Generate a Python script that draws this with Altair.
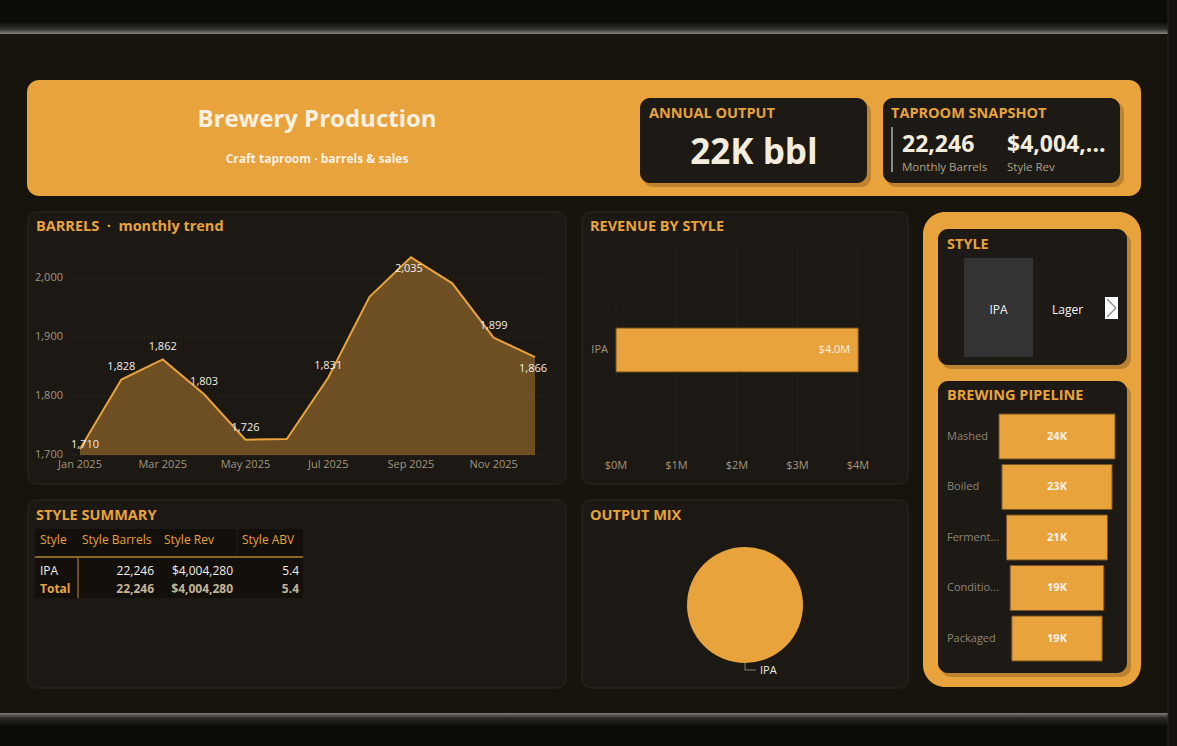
import altair as alt
import pandas as pd

# ---------------- data ----------------
months = ["Jan 2025", "Feb 2025", "Mar 2025", "Apr 2025", "May 2025", "Jun 2025",
          "Jul 2025", "Aug 2025", "Sep 2025", "Oct 2025", "Nov 2025", "Dec 2025"]
monthly_barrels = [1710, 1828, 1862, 1803, 1726, 1727, 1831, 1968, 2035, 1991, 1899, 1866]
labelled_at_point = ["Jan 2025"]
labelled_above = ["Feb 2025", "Mar 2025", "Apr 2025", "May 2025", "Jul 2025", "Nov 2025"]
labelled_below = ["Sep 2025", "Dec 2025"]
barrel_ticks = [1700, 1800, 1900, 2000]
month_ticks = ["Jan 2025", "Mar 2025", "May 2025", "Jul 2025", "Sep 2025", "Nov 2025"]

styles = ["IPA"]
style_barrels = [22246]
style_revenue = [4004280]
style_abv = [5.4]
revenue_ticks = [0, 1000000, 2000000, 3000000, 4000000]
revenue_tick_labels = ["$0M", "$1M", "$2M", "$3M", "$4M"]

slicer_styles = ["IPA", "Lager"]
selected_style = "IPA"

stages = ["Mashed", "Boiled", "Fermented", "Conditioned", "Packaged"]
stage_barrels = [24020, 22800, 20900, 19400, 18700]

# ---------------- styles ----------------
FONT = "Open Sans"
PAGE = "#17140E"
TOPBAR = "#0D0B07"
PANEL = "#1C1813"
PANEL_STROKE = "#2E2920"
CARD = "#1D1914"
ORANGE = "#E8A33C"
CREAM = "#F3ECDF"
MUTED = "#A3967F"
SUB = "#B0A28A"
GRID = "#3A342B"
ONE = pd.DataFrame({"k": [0]})


def rect(x1, y1, x2, y2, fill, radius=0, stroke=None, stroke_width=0, opacity=1.0):
    kw = dict(fill=fill, cornerRadius=radius, opacity=opacity)
    if stroke:
        kw.update(stroke=stroke, strokeWidth=stroke_width)
    return alt.Chart(ONE).mark_rect(**kw).encode(
        x=alt.value(x1), x2=alt.value(x2), y=alt.value(y1), y2=alt.value(y2))


def grad_rect(x1, y1, x2, y2, stops):
    g = {"gradient": "linear", "x1": 0, "x2": 0, "y1": 0, "y2": 1,
         "stops": [{"offset": o, "color": c} for o, c in stops]}
    return alt.Chart(ONE).mark_rect(fill=g).encode(
        x=alt.value(x1), x2=alt.value(x2), y=alt.value(y1), y2=alt.value(y2))


def text(x, y, s, size, color, weight="normal", align="left"):
    return alt.Chart(ONE).mark_text(
        text=s, fontSize=size, color=color, fontWeight=weight, align=align,
        baseline="middle", font=FONT).encode(x=alt.value(x), y=alt.value(y))


def line(x1, y1, x2, y2, color, width=1.0):
    return alt.Chart(ONE).mark_rule(color=color, strokeWidth=width).encode(
        x=alt.value(x1), x2=alt.value(x2), y=alt.value(y1), y2=alt.value(y2))


layers = []

# ---------------- page frame ----------------
layers += [
    rect(0, 0, 1177, 746, PAGE),
    rect(0, 0, 1177, 22, TOPBAR),
    grad_rect(0, 22, 1177, 34, [(0, TOPBAR), (0.6, "#33312d"), (1, "#86847f")]),
    grad_rect(0, 713, 1177, 727, [(0, "#7f7d78"), (0.35, "#2b2925"), (1, TOPBAR)]),
    rect(0, 727, 1177, 746, TOPBAR),
    rect(1168, 0, 1177, 746, "#15120d"),
    line(1168, 0, 1168, 746, "#2b2720"),
]

# ---------------- header ----------------
kpi = pd.DataFrame({"barrels": [sum(monthly_barrels)], "revenue": [sum(style_revenue)]})
layers += [
    rect(27, 80, 1141, 196, ORANGE, radius=12),
    text(317, 120, "Brewery Production", 24, "#FAF1E2", weight="bold", align="center"),
    text(317, 159, "Craft taproom · barrels & sales", 12, "#FAF1E2", weight="bold", align="center"),
    rect(643, 102, 871, 187, "#9c6a22", radius=10, opacity=0.55),
    rect(640, 98, 867, 183, CARD, radius=10),
    text(649, 114, "ANNUAL OUTPUT", 14.5, ORANGE, weight="bold"),
    alt.Chart(kpi).transform_calculate(lbl="format(datum.barrels/1000, '.0f') + 'K bbl'")
    .mark_text(fontSize=35, color=CREAM, fontWeight="bold", align="center", baseline="middle", font=FONT)
    .encode(x=alt.value(754), y=alt.value(153), text="lbl:N"),
    rect(886, 102, 1124, 187, "#9c6a22", radius=10, opacity=0.55),
    rect(883, 98, 1120, 183, CARD, radius=10),
    text(891, 114, "TAPROOM SNAPSHOT", 14.5, ORANGE, weight="bold"),
    line(892, 127, 892, 172, "#8e8a84", 2),
    alt.Chart(kpi).mark_text(fontSize=23, color=CREAM, fontWeight="bold", align="left", baseline="middle", font=FONT)
    .encode(x=alt.value(902), y=alt.value(145), text=alt.Text("barrels:Q", format=",")),
    text(902, 168, "Monthly Barrels", 11.5, SUB),
    alt.Chart(kpi).transform_calculate(lbl="'$' + format(datum.revenue, ',')")
    .mark_text(fontSize=23, color=CREAM, fontWeight="bold", align="left", baseline="middle", font=FONT,
               limit=104, ellipsis="...")
    .encode(x=alt.value(1007), y=alt.value(145), text="lbl:N"),
    text(1007, 168, "Style Rev", 11.5, SUB),
]

# ---------------- panels ----------------
for (x1, y1, x2, y2) in [(28, 212, 566, 484), (582, 212, 908, 484), (28, 500, 566, 688), (582, 500, 908, 688)]:
    layers.append(rect(x1, y1, x2, y2, PANEL, radius=9, stroke=PANEL_STROKE, stroke_width=1))

# ---------------- trend chart ----------------
trend = pd.DataFrame({"month": months, "barrels": monthly_barrels})
tx = alt.Scale(type="point", domain=months, range=[80, 535], padding=0)
ty = alt.Scale(domain=[barrel_ticks[0], barrel_ticks[-1]], range=[455, 278], nice=False, zero=False)
TX = alt.X("month:N", scale=tx, sort=months, axis=None)
TY = alt.Y("barrels:Q", scale=ty, axis=None)
ticks_df = pd.DataFrame({"tick": barrel_ticks})
mticks_df = pd.DataFrame({"month": month_ticks})


def point_labels(which, dx, dy):
    return (alt.Chart(trend).transform_filter(alt.FieldOneOfPredicate(field="month", oneOf=which))
            .mark_text(fontSize=11, color="#F2EEE6", dx=dx, dy=dy, baseline="middle", font=FONT)
            .encode(x=TX, y=TY, text=alt.Text("barrels:Q", format=",")))


trend_layer = alt.layer(
    alt.Chart(ticks_df).mark_rule(color=GRID, strokeDash=[1, 3]).encode(
        y=alt.Y("tick:Q", scale=ty, axis=None), x=alt.value(68), x2=alt.value(541)),
    alt.Chart(trend).mark_area(color=ORANGE, opacity=0.4).encode(
        x=TX, y=TY, y2=alt.datum(barrel_ticks[0])),
    alt.Chart(trend).mark_line(color=ORANGE, strokeWidth=2).encode(x=TX, y=TY),
    point_labels(labelled_at_point, 5, -4),
    point_labels(labelled_above, 0, -12),
    point_labels(labelled_below, -2, 12),
    alt.Chart(ticks_df).mark_text(fontSize=11, color=MUTED, align="right", baseline="middle", font=FONT)
    .encode(y=alt.Y("tick:Q", scale=ty, axis=None), x=alt.value(63), text=alt.Text("tick:Q", format=",")),
    alt.Chart(mticks_df).mark_text(fontSize=11, color=MUTED, align="center", baseline="middle", font=FONT)
    .encode(x=alt.X("month:N", scale=tx, sort=months, axis=None), y=alt.value(465), text="month:N"),
)
layers += [text(36, 227, "BARRELS\u00a0\u00a0·\u00a0\u00a0monthly trend", 14.5, ORANGE, weight="bold"), trend_layer]

# ---------------- revenue by style ----------------
rev = pd.DataFrame({"style": styles, "revenue": style_revenue})
rticks = pd.DataFrame({"tick": revenue_ticks, "label": revenue_tick_labels})
rx = alt.Scale(domain=[revenue_ticks[0], revenue_ticks[-1]], range=[616, 858], nice=False, zero=True)
ry = alt.Scale(domain=styles, range=[328, 372], paddingInner=0, paddingOuter=0)
rev_layer = alt.layer(
    alt.Chart(rticks).mark_rule(color=GRID, strokeDash=[1, 3]).encode(
        x=alt.X("tick:Q", scale=rx, axis=None), y=alt.value(250), y2=alt.value(455)),
    alt.Chart(rev).mark_bar(color=ORANGE, stroke="#6e4d1e", strokeWidth=1).encode(
        x=alt.X("revenue:Q", scale=rx, axis=None), y=alt.Y("style:N", scale=ry, axis=None)),
    alt.Chart(rev).mark_text(fontSize=11, color="#F7F1E6", align="right", dx=-8, baseline="middle", font=FONT)
    .encode(x=alt.X("revenue:Q", scale=rx, axis=None), y=alt.Y("style:N", scale=ry, axis=None),
            text=alt.Text("revenue:Q", format="$.2s")),
    alt.Chart(rev).mark_text(fontSize=11, color=MUTED, align="right", baseline="middle", font=FONT)
    .encode(x=alt.value(608), y=alt.Y("style:N", scale=ry, axis=None), text="style:N"),
    alt.Chart(rticks).mark_text(fontSize=11, color=MUTED, align="center", baseline="middle", font=FONT)
    .encode(x=alt.X("tick:Q", scale=rx, axis=None), y=alt.value(466), text="label:N"),
)
layers += [text(590, 227, "REVENUE BY STYLE", 14.5, ORANGE, weight="bold"), rev_layer]

# ---------------- style summary table ----------------
table = pd.DataFrame({
    "row": styles + ["Total"],
    "barrels": style_barrels + [sum(style_barrels)],
    "revenue": style_revenue + [sum(style_revenue)],
    "abv": style_abv + [sum(style_abv) / len(style_abv)],
    "kind": ["row"] * len(styles) + ["total"],
})
trow = alt.Scale(domain=list(table["row"]), range=[562, 598], paddingInner=0, paddingOuter=0)
TR = alt.Y("row:N", scale=trow, axis=None)
table_layers = []
for kind, color, weight in [("row", "#F2EEE6", "normal"), ("total", "#C2B398", "bold")]:
    base = alt.Chart(table).transform_filter(alt.datum.kind == kind)
    table_layers += [
        base.mark_text(fontSize=12, color=(ORANGE if kind == "total" else "#F2EEE6"), fontWeight=weight,
                       align="left", baseline="middle", font=FONT)
        .encode(x=alt.value(40), y=TR, text="row:N"),
        base.mark_text(fontSize=12, color=color, fontWeight=weight, align="right", baseline="middle", font=FONT)
        .encode(x=alt.value(154), y=TR, text=alt.Text("barrels:Q", format=",")),
        base.mark_text(fontSize=12, color=color, fontWeight=weight, align="right", baseline="middle", font=FONT)
        .encode(x=alt.value(233), y=TR, text=alt.Text("revenue:Q", format="$,")),
        base.mark_text(fontSize=12, color=color, fontWeight=weight, align="right", baseline="middle", font=FONT)
        .encode(x=alt.value(299), y=TR, text=alt.Text("abv:Q", format=".1f")),
    ]
layers += [
    text(36, 516, "STYLE SUMMARY", 14.5, ORANGE, weight="bold"),
    rect(35, 529, 303, 598, "#130F0B"),
    text(40, 540, "Style", 12, ORANGE),
    text(82, 540, "Style Barrels", 12, ORANGE),
    text(164, 540, "Style Rev", 12, ORANGE),
    text(242, 540, "Style ABV", 12, ORANGE),
    line(35, 557, 303, 557, "#8A6428", 2),
    line(237, 529, 237, 556, "#221e17", 1),
    line(78, 558, 78, 598, "#C98D33", 1),
    alt.layer(*table_layers),
]

# ---------------- output mix (pie) ----------------
mix = pd.DataFrame({"style": styles, "barrels": style_barrels})
layers += [
    text(590, 516, "OUTPUT MIX", 14.5, ORANGE, weight="bold"),
    alt.Chart(mix).mark_arc(radius=58, color=ORANGE).encode(
        theta=alt.Theta("barrels:Q"), x=alt.value(745), y=alt.value(605)),
    line(745, 663, 745, 670, "#8a8478"),
    line(745, 670, 756, 670, "#8a8478"),
    alt.Chart(mix).mark_text(fontSize=11, color="#F2EEE6", align="left", baseline="middle", font=FONT)
    .encode(x=alt.value(760), y=alt.value(671), text="style:N"),
]

# ---------------- right column ----------------
slicer = pd.DataFrame({"style": slicer_styles})
sx = alt.Scale(domain=slicer_styles, range=[964, 1102], paddingInner=0, paddingOuter=0)
SX = alt.X("style:N", scale=sx, axis=None)
slicer_layer = alt.layer(
    alt.Chart(slicer).transform_filter(alt.datum.style == selected_style)
    .mark_rect(color="#333333").encode(x=SX, y=alt.value(258), y2=alt.value(357)),
    alt.Chart(slicer).mark_text(fontSize=12, color="#F5F5F5", align="center", baseline="middle", font=FONT)
    .encode(x=SX, y=alt.value(310), text="style:N"),
)

funnel = pd.DataFrame({"stage": stages, "barrels": stage_barrels})
half = max(stage_barrels) / 2
fx = alt.Scale(domain=[-half, half], range=[999, 1115], nice=False, zero=False)
fy = alt.Scale(domain=stages, range=[411.25, 663.75], paddingInner=0.11, paddingOuter=0.055)
FY = alt.Y("stage:N", scale=fy, sort=stages, axis=None)
funnel_layer = alt.layer(
    alt.Chart(funnel).transform_calculate(lo="-datum.barrels/2", hi="datum.barrels/2")
    .mark_rect(color=ORANGE, stroke="#7A5522", strokeWidth=1)
    .encode(x=alt.X("lo:Q", scale=fx, axis=None), x2="hi:Q", y=FY),
    alt.Chart(funnel).transform_calculate(mid="0", lbl="format(datum.barrels/1000, '.0f') + 'K'")
    .mark_text(fontSize=11, color="#FBF4E8", fontWeight="bold", align="center", baseline="middle", font=FONT)
    .encode(x=alt.X("mid:Q", scale=fx, axis=None), y=FY, text="lbl:N"),
    alt.Chart(funnel).mark_text(fontSize=11, color="#8E867A", align="left", baseline="middle", font=FONT,
                                limit=55, ellipsis="...")
    .encode(x=alt.value(947), y=FY, text="stage:N"),
)

layers += [
    rect(923, 212, 1141, 687, ORANGE, radius=22),
    rect(941, 233, 1131, 369, "#a8742a", radius=10, opacity=0.7),
    rect(938, 229, 1127, 365, CARD, radius=10),
    text(947, 245, "STYLE", 14.5, ORANGE, weight="bold"),
    slicer_layer,
    rect(1105, 297, 1118, 319, "#FFFFFF"),
    line(1107, 299, 1116, 308, "#8a8a8a", 1.3),
    line(1116, 308, 1107, 317, "#8a8a8a", 1.3),
    rect(941, 385, 1131, 677, "#a8742a", radius=10, opacity=0.7),
    rect(938, 381, 1127, 673, CARD, radius=10),
    text(947, 396, "BREWING PIPELINE", 14.5, ORANGE, weight="bold"),
    funnel_layer,
]

chart = alt.layer(*layers).resolve_scale(
    x="independent", y="independent", theta="independent", color="independent"
).properties(
    width=1177, height=746, padding=0, autosize="none", background=PAGE
).configure_view(strokeWidth=0)

chart.save("out.html", embed_options={"renderer": "svg", "actions": False})
